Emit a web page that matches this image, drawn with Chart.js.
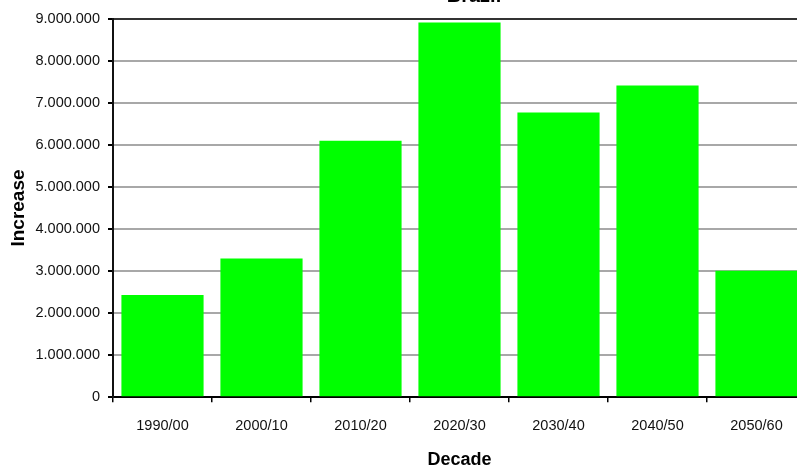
<!DOCTYPE html>
<html>
<head>
<meta charset="utf-8">
<title>Brazil</title>
<script src="https://cdn.jsdelivr.net/npm/chart.js@4/dist/chart.umd.min.js"></script>
<style>
  html, body { margin: 0; padding: 0; background: #fff; overflow: hidden; }
  body { width: 797px; height: 471px; position: relative; }
  #wrap { position: absolute; left: 0; top: -30px; width: 948px; height: 501px; }
</style>
</head>
<body>
<div id="wrap"><canvas id="chart"></canvas></div>
<script>
// Population increase per decade, Brazil
const chartTitle = 'Brazil';
const decades = ['1990/00', '2000/10', '2010/20', '2020/30', '2030/40', '2040/50', '2050/60'];
const increase = [2430000, 3300000, 6100000, 8910000, 6770000, 7410000, 3010000];
const yMin = 0;
const yMax = 9000000;
const yStep = 1000000;
const xTitle = 'Decade';
const yTitle = 'Increase';

const FONT = '"Liberation Sans", Arial, sans-serif';

// 9000000 -> "9.000.000"
function dotted(v) {
  return String(Math.round(v)).replace(/\B(?=(\d{3})+(?!\d))/g, '.');
}

new Chart(document.getElementById('chart'), {
  type: 'bar',
  data: {
    labels: decades,
    datasets: [{
      data: increase,
      backgroundColor: '#00ff00',
      borderWidth: 0,
      barPercentage: 0.83,
      categoryPercentage: 1.0
    }]
  },
  options: {
    responsive: true,
    maintainAspectRatio: false,
    animation: false,
    layout: { padding: 0 },
    plugins: {
      legend: { display: false },
      tooltip: { enabled: false },
      title: {
        display: true,
        text: chartTitle,
        color: '#000',
        font: { family: FONT, size: 20, weight: 'bold', lineHeight: 1.2 },
        padding: { top: 14, bottom: 10.7 }
      }
    },
    scales: {
      x: {
        offset: true,
        border: { display: true, color: '#000', width: 2 },
        grid: {
          drawOnChartArea: false,
          drawTicks: true,
          tickLength: 5,
          color: '#000',
          lineWidth: 1.5
        },
        ticks: {
          color: '#111',
          padding: 14.5,
          maxRotation: 0,
          font: { family: FONT, size: 14.5 }
        },
        title: {
          display: true,
          text: xTitle,
          color: '#000',
          font: { family: FONT, size: 18, weight: 'bold', lineHeight: 1.2 },
          padding: { top: 0, bottom: 0 }
        },
        afterFit: s => { s.height = 73.7; }
      },
      y: {
        min: yMin,
        max: yMax,
        border: { display: true, color: '#111', width: 2 },
        grid: {
          color: ctx => (ctx.tick && ctx.tick.value === yMax) ? '#333' : '#a8a8a8',
          lineWidth: 2,
          tickColor: '#000',
          tickLength: 5,
          drawTicks: true
        },
        ticks: {
          stepSize: yStep,
          color: '#111',
          padding: 8,
          font: { family: FONT, size: 14.5 },
          callback: v => dotted(v)
        },
        title: {
          display: true,
          text: yTitle,
          color: '#000',
          font: { family: FONT, size: 19, weight: 'bold', lineHeight: 1.2 },
          padding: { top: 7, bottom: 0 }
        },
        afterFit: s => { s.width = 113; }
      },
      // empty right-hand axis that reserves space beyond the last category
      yRight: {
        position: 'right',
        min: 0,
        max: 1,
        border: { display: false },
        grid: { display: false },
        ticks: { display: false },
        afterFit: s => { s.width = 142; }
      }
    }
  }
});
</script>
</body>
</html>
